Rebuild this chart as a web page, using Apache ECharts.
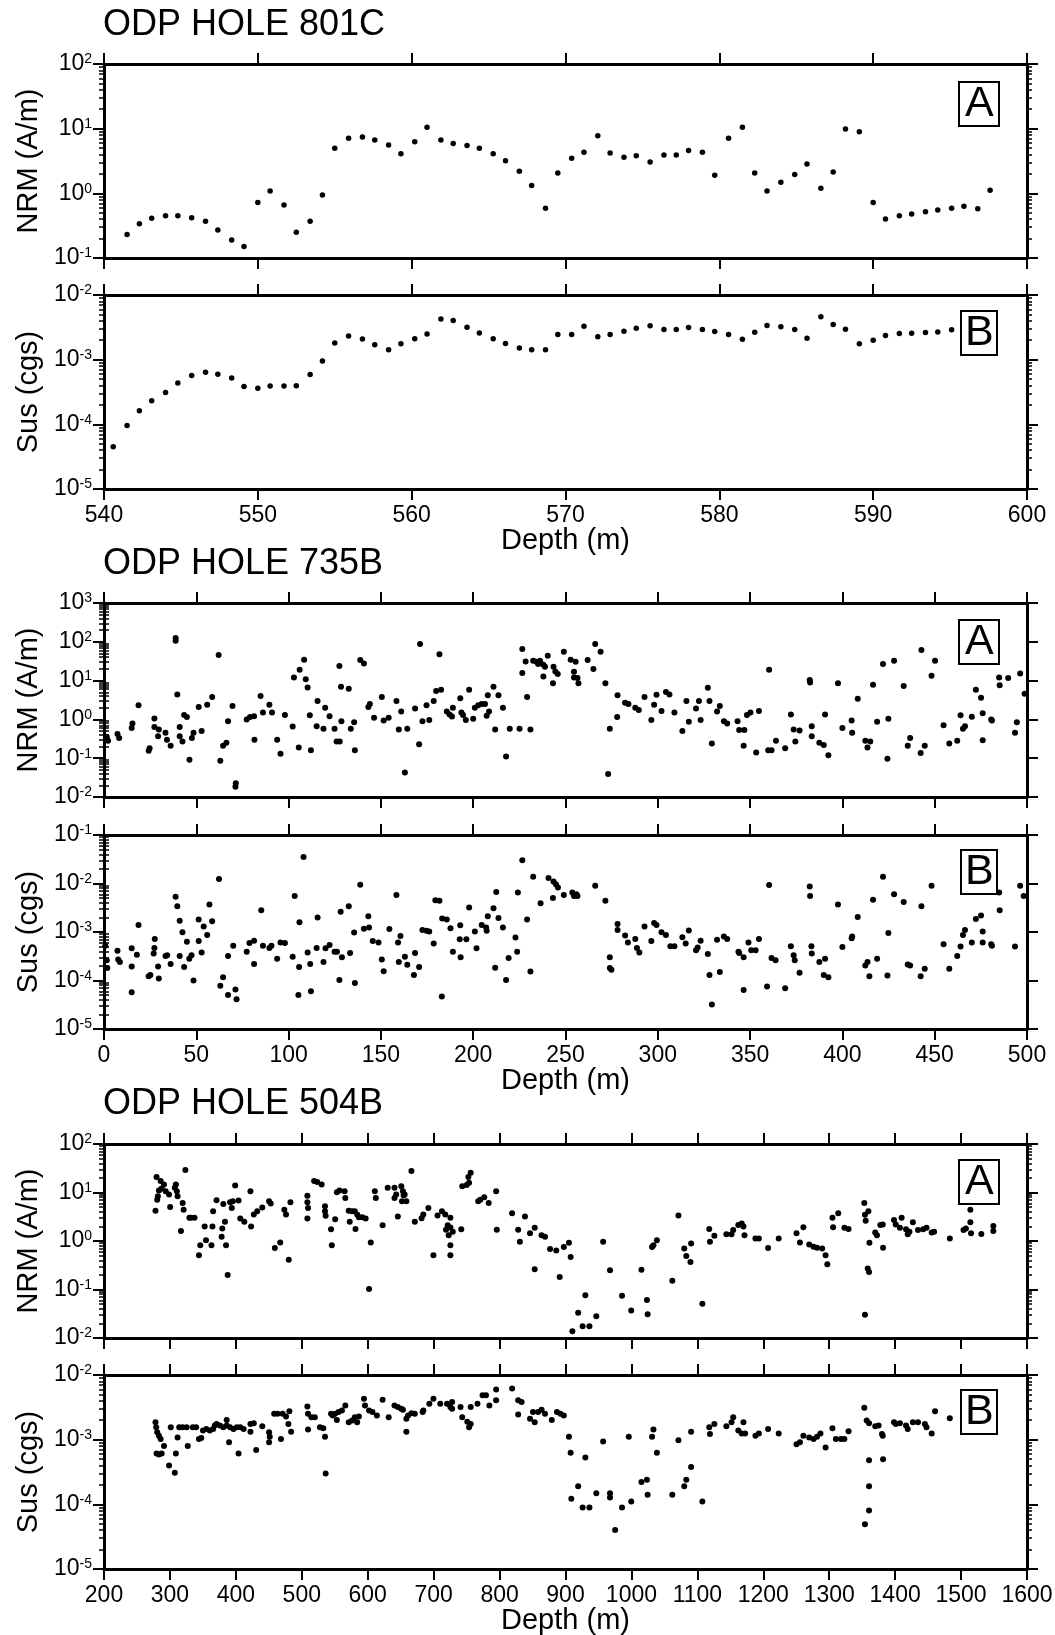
<!DOCTYPE html>
<html>
<head>
<meta charset="utf-8">
<script src="https://cdn.jsdelivr.net/npm/echarts@6/dist/echarts.min.js"></script>
<style>
html,body{margin:0;padding:0;background:#fff;}
#chart{width:1055px;height:1635px;}
</style>
</head>
<body>
<div id="chart"></div>
<script>
// ---------------- DATA (depth m, value) ----------------
const nrm801C = [[541.5,0.23],[542.3,0.34],[543.1,0.41],[544.0,0.45],[544.8,0.45],[545.7,0.42],[546.6,0.37],[547.4,0.27],[548.3,0.19],[549.1,0.15],[550.0,0.72],[550.8,1.09],[551.7,0.66],[552.5,0.25],[553.4,0.37],[554.2,0.94],[555.0,5.0],[555.9,7.1],[556.8,7.4],[557.6,6.7],[558.5,5.6],[559.3,4.1],[560.2,6.3],[561.0,10.5],[561.9,6.7],[562.7,5.9],[563.6,5.5],[564.4,5.0],[565.3,4.1],[566.1,3.2],[567.0,2.2],[567.8,1.32],[568.7,0.59],[569.5,2.06],[570.4,3.5],[571.2,4.3],[572.1,7.8],[572.9,4.2],[573.8,3.6],[574.6,3.8],[575.5,3.05],[576.4,3.9],[577.2,3.9],[578.0,4.6],[578.9,4.3],[579.7,1.91],[580.6,7.1],[581.5,10.5],[582.3,2.06],[583.1,1.09],[584.0,1.49],[584.9,1.96],[585.7,2.84],[586.6,1.2],[587.4,2.13],[588.2,9.9],[589.1,9.0],[590.0,0.72],[590.8,0.40],[591.7,0.45],[592.5,0.48],[593.4,0.52],[594.2,0.55],[595.1,0.59],[595.9,0.63],[596.8,0.58],[597.6,1.12]];

const sus801C = [[540.6,4.5e-5],[541.5,9.6e-5],[542.3,1.62e-4],[543.1,2.32e-4],[544.0,3.1e-4],[544.8,4.36e-4],[545.7,5.68e-4],[546.6,6.4e-4],[547.4,5.96e-4],[548.3,5.21e-4],[549.1,3.85e-4],[550.0,3.63e-4],[550.8,3.91e-4],[551.7,3.91e-4],[552.5,3.95e-4],[553.4,5.89e-4],[554.2,9.53e-4],[555.0,1.81e-3],[555.9,2.32e-3],[556.8,2.08e-3],[557.6,1.7e-3],[558.5,1.42e-3],[559.3,1.76e-3],[560.2,2.11e-3],[561.0,2.5e-3],[561.9,4.25e-3],[562.7,4.05e-3],[563.6,3.18e-3],[564.4,2.59e-3],[565.3,2.11e-3],[566.1,1.78e-3],[567.0,1.51e-3],[567.8,1.42e-3],[568.7,1.42e-3],[569.5,2.44e-3],[570.4,2.44e-3],[571.2,3.3e-3],[572.1,2.27e-3],[572.9,2.44e-3],[573.8,2.75e-3],[574.6,3.07e-3],[575.5,3.34e-3],[576.4,2.92e-3],[577.2,2.92e-3],[578.0,3.14e-3],[578.9,2.92e-3],[579.7,2.72e-3],[580.6,2.44e-3],[581.5,2.06e-3],[582.3,2.65e-3],[583.1,3.38e-3],[584.0,3.22e-3],[584.9,2.92e-3],[585.7,2.14e-3],[586.6,4.62e-3],[587.4,3.51e-3],[588.2,2.96e-3],[589.1,1.76e-3],[590.0,1.99e-3],[590.8,2.36e-3],[591.7,2.53e-3],[592.5,2.56e-3],[593.4,2.62e-3],[594.2,2.69e-3],[595.1,2.89e-3]];

const nrm735B = [[1.5,0.35],[2.2,0.28],[7.3,0.42],[8.2,0.33],[15.0,0.60],[15.4,0.78],[18.7,2.3],[24.2,0.156],[24.7,0.18],[27.3,1.06],[27.3,0.64],[29.3,0.37],[29.7,0.55],[33.3,0.45],[34.1,0.30],[36.1,0.21],[38.8,107],[38.8,126],[39.7,4.4],[41.0,0.64],[41.0,0.37],[42.5,0.27],[43.4,1.29],[44.9,1.15],[46.3,0.091],[47.6,0.33],[48.5,0.45],[51.3,2.1],[52.9,0.50],[55.9,2.4],[58.6,3.8],[62.1,46],[63.0,0.086],[64.5,0.21],[66.3,0.25],[67.2,0.90],[69.6,2.2],[71.2,0.0185],[71.4,0.0226],[77.3,1.0],[79.1,1.15],[81.3,1.2],[81.5,0.30],[84.8,4.0],[86.1,1.5],[89.6,2.4],[91.0,1.5],[93.8,0.30],[95.6,0.13],[98.0,1.3],[102.2,0.66],[102.9,12],[105.5,0.19],[106.0,19],[108.4,34.5],[109.3,10.9],[110.3,6.6],[111.5,1.27],[112.1,0.16],[115.7,3.0],[115.2,0.67],[118.9,0.57],[119.8,2.0],[122.2,1.2],[124.9,0.57],[126.0,0.27],[127.7,0.27],[127.5,23.7],[128.4,6.9],[128.6,0.90],[132.6,6.2],[133.7,0.57],[135.5,0.85],[135.9,0.16],[138.8,33.8],[140.8,27.7],[143.2,2.1],[144.0,2.5],[146.3,1.1],[150.5,3.8],[151.5,0.94],[154.2,1.1],[158.4,3.0],[159.7,0.55],[161.0,1.6],[163.0,0.043],[164.3,0.57],[168.5,1.9],[170.7,0.23],[171.2,88],[172.5,0.90],[174.7,2.3],[176.2,0.96],[178.6,3.0],[179.9,5.4],[181.7,48],[182.6,5.8],[185.7,1.6],[187.2,1.34],[188.5,1.19],[189.0,2.0],[193.0,3.5],[193.6,1.5],[194.5,1.3],[196.0,0.96],[197.8,5.8],[200.0,1.04],[200.9,2.0],[202.7,2.3],[204.6,2.5],[206.4,2.5],[207.3,1.24],[207.9,4.2],[208.6,1.6],[211.0,6.9],[211.9,0.55],[213.7,4.2],[216.1,2.0],[217.8,0.11],[219.8,0.57],
[226.6,65],[228.4,31],[226.6,15.6],[229.2,3.8],[225.1,0.57],[231.0,0.55],[232.5,32.5],[234.3,30.6],[236.2,32.5],[235.2,26.6],[238.0,25.6],[238.9,22.7],[238.0,12.7],[240.4,43.8],[243.5,22.7],[244.5,17.2],[245.8,14.7],[243.2,8.6],[249.1,55.7],[252.8,34.5],[255.5,30.6],[254.6,16.9],[254.6,12],[256.5,11.6],[257.0,8.6],[262.0,33.8],[265.1,19.8],[266.1,88],[269.0,55.7],[271.6,8.6],[273.1,0.039],[274.0,0.57],[278.2,4.2],[278.0,1.15],[282.3,2.7],[284.1,2.5],[287.8,2.0],[289.7,1.74],[292.8,3.8],[296.5,0.96],[298.0,2.4],[299.3,4.3],[302.0,1.64],[304.4,5.1],[306.3,4.4],[309.0,1.5],[313.3,0.50],[315.5,3.0],[316.8,0.87],[320.7,1.9],[322.3,3.0],[323.2,0.96],[327.1,6.5],[328.0,3.0],[329.3,0.24],[332.1,1.6],[333.6,2.2],[335.8,0.90],[337.6,0.78],[343.2,0.90],[344.1,0.53],[346.9,0.53],[346.5,0.21],[348.3,1.29],[350.2,1.5],[353.3,0.14],[354.8,1.64],[359.8,0.16],[361.6,0.16],[360.3,19],[364.0,0.28],[369.0,0.18],[372.1,1.34],[373.6,0.55],[376.8,0.52],[374.5,0.27],[382.3,10.3],[382.5,8.9],[383.4,0.67],[383.4,0.37],[387.5,0.25],[389.9,0.22],[390.6,1.34],[392.4,0.12],[397.6,8.6],[400.0,0.60],[405.0,0.94],[405.3,0.45],[408.3,3.4],[412.4,0.28],[413.6,0.19],[415.1,0.27],[416.6,7.8],[418.8,0.87],[422.0,26.6],[424.4,0.097],[424.9,1.04],[428.0,32.5],[433.2,7.3],[435.4,0.21],[436.7,0.33],[442.8,61.5],[442.4,0.136],[444.6,0.21],[448.3,13.3],[450.2,32.5],[454.8,0.71],[457.9,0.24],[462.2,0.28],[464.0,1.27],[465.3,0.57],[466.4,0.67],[470.1,1.17],[472.3,5.8],[475.1,3.6],[476.0,1.43],[476.0,0.29],[480.6,1.0],[481.0,0.94],[484.9,12],[485.2,7.6],[489.8,11.6],[493.5,0.45],[494.5,0.85],[496.3,15.2],[498.7,4.6]];

const sus735B = [[0.7,5.2e-4],[1.5,2.6e-4],[1.8,1.8e-4],[7.3,4.1e-4],[7.7,2.7e-4],[8.6,2.4e-4],[15.0,4.6e-4],[15.0,1.95e-4],[15.0,5.7e-5],[17.8,3.4e-4],[18.7,1.4e-3],[24.2,1.23e-4],[25.1,1.3e-4],[26.9,3.6e-4],[27.3,4.7e-4],[27.5,7.2e-4],[29.3,1.95e-4],[29.7,1.1e-4],[33.3,3.2e-4],[34.2,3.3e-4],[36.1,2.2e-4],[38.8,5.3e-3],[39.7,3.4e-3],[41.0,1.7e-3],[41.0,3.2e-4],[42.5,9.9e-4],[43.4,1.9e-4],[44.9,6.3e-4],[46.2,2.8e-4],[47.4,3.3e-4],[48.5,1.0e-4],[51.3,1.8e-3],[51.3,6.5e-4],[52.9,3.8e-4],[54.0,1.3e-3],[55.9,8.7e-4],[57.1,3.7e-3],[58.6,1.66e-3],[62.3,1.24e-2],[63.0,7.8e-5],[64.5,1.17e-4],[67.2,3.2e-4],[67.2,5.0e-5],[70.0,5.2e-4],[71.2,6.5e-5],[71.8,4.1e-5],[77.3,3.9e-4],[78.8,5.9e-4],[81.3,6.6e-4],[81.3,2.2e-4],[85.2,2.8e-3],[86.1,5.2e-4],[89.6,4.7e-4],[90.7,5.2e-4],[93.8,2.8e-4],[95.6,6.1e-4],[98.0,5.9e-4],[102.2,3.1e-4],[103.3,5.5e-3],[105.3,5.0e-5],[105.9,1.58e-3],[105.7,1.9e-4],[108.1,3.5e-2],[110.3,3.8e-4],[111.7,2.2e-4],[112.1,6.0e-5],[115.7,2.0e-3],[115.2,4.7e-4],[118.9,2.4e-4],[120.0,4.6e-4],[122.2,5.4e-4],[124.9,3.9e-4],[126.2,3.9e-4],[127.5,1.03e-4],[128.2,2.6e-3],[128.9,3.0e-4],[133.3,3.7e-4],[132.6,3.4e-3],[135.5,9.8e-4],[135.9,8.9e-5],[138.8,9.4e-3],[140.8,1.16e-3],[143.2,2.1e-3],[143.6,1.24e-3],[145.6,6.5e-4],[148.7,6.1e-4],[150.5,2.7e-4],[151.5,1.56e-4],[154.6,1.15e-3],[158.4,5.8e-3],[159.3,6.1e-4],[160.6,8.3e-4],[159.7,2.4e-4],[163.0,3.1e-4],[164.3,2.1e-4],[167.9,1.3e-4],[168.5,3.7e-4],[170.7,1.9e-4],[172.5,1.1e-3],[174.7,1.06e-3],[176.2,1.02e-3],[178.6,5.8e-4],[179.5,4.5e-3],[181.7,4.4e-3],[183.0,4.7e-5],[183.2,1.9e-3],[185.7,1.8e-3],[187.7,1.2e-3],[189.0,3.9e-4],[192.7,7.1e-4],[193.2,3.0e-4],[193.0,1.37e-3],[196.3,7.1e-4],[197.8,3.2e-3],[200.9,1.02e-3],[201.8,4.6e-4],[204.6,1.4e-3],[207.0,1.24e-3],[207.3,1.06e-3],[207.9,2.1e-3],[211.0,3.1e-3],[211.9,1.84e-4],[212.5,6.7e-3],[213.7,1.95e-3],[216.1,1.24e-3],[217.8,1.03e-4],[219.2,2.9e-4],[222.9,7.7e-4],[223.8,3.9e-4],[224.2,6.5e-3],
[226.6,3.0e-2],[232.5,1.38e-2],[229.2,1.8e-3],[231.0,1.54e-4],[236.5,3.9e-3],[240.8,1.3e-2],[243.2,5.0e-3],[243.5,1.1e-2],[244.8,9.7e-3],[245.9,8.3e-3],[249.1,5.8e-3],[253.7,6.5e-3],[254.6,5.5e-3],[255.9,6.0e-3],[256.5,5.5e-3],[266.1,9.0e-3],[271.6,4.4e-3],[274.0,3.0e-4],[274.0,1.8e-4],[274.9,1.67e-4],[278.2,1.46e-3],[278.2,1.1e-3],[282.3,8.5e-4],[283.8,6.1e-4],[287.8,7.2e-4],[288.7,4.7e-4],[290.0,3.8e-4],[292.8,1.3e-3],[296.5,6.5e-4],[298.0,1.53e-3],[299.3,1.4e-3],[302.0,9.9e-4],[304.4,8.7e-4],[306.8,5.1e-4],[309.0,5.1e-4],[313.3,7.8e-4],[315.1,5.8e-4],[316.8,1.07e-3],[320.7,4.2e-4],[321.6,4.8e-4],[323.2,6.6e-4],[327.1,3.5e-4],[328.0,1.3e-4],[329.3,3.2e-5],[332.1,6.9e-4],[333.6,1.5e-4],[335.8,8.1e-4],[337.6,7.2e-4],[343.7,3.9e-4],[344.1,3.7e-4],[346.5,3.0e-4],[346.5,6.4e-5],[349.1,6.1e-4],[350.6,4.2e-4],[353.0,4.2e-4],[354.8,7.2e-4],[359.2,7.5e-5],[360.3,9.3e-3],[361.6,2.9e-4],[363.8,2.6e-4],[369.0,6.9e-5],[372.1,5.1e-4],[373.6,3.3e-4],[374.2,2.6e-4],[376.8,1.44e-4],[382.3,8.7e-3],[382.5,5.5e-3],[383.2,5.1e-4],[383.4,3.6e-4],[387.5,2.4e-4],[389.9,1.3e-4],[390.6,2.8e-4],[392.4,1.17e-4],[397.6,3.7e-3],[400.0,4.9e-4],[405.0,7.4e-4],[405.3,8.1e-4],[408.3,2.05e-3],[412.4,2.05e-4],[413.6,2.4e-4],[414.6,1.23e-4],[416.6,4.6e-3],[418.8,2.8e-4],[422.0,1.38e-2],[424.4,1.27e-4],[424.9,9.5e-4],[428.0,6.0e-3],[433.2,4.15e-3],[435.4,2.15e-4],[436.7,2.05e-4],[442.4,1.23e-4],[442.8,3.4e-3],[444.6,1.75e-4],[448.3,9.0e-3],[454.8,5.6e-4],[457.9,1.75e-4],[462.2,3.2e-4],[464.0,5.0e-4],[465.3,8.7e-4],[466.4,1.1e-3],[470.1,6.1e-4],[472.3,1.86e-3],[475.1,2.2e-3],[476.0,1.02e-3],[476.0,6.1e-4],[480.6,5.6e-4],[481.0,5.2e-4],[484.9,6.5e-3],[485.2,2.8e-3],[493.5,5.0e-4],[496.3,9.0e-3],[498.2,5.5e-3]];

const nrm504B = [[278.1,4.2],[280.7,7.1],[279.7,20.8],[285.9,17.2],[287.4,12.1],[283.3,11.0],[291.0,14.6],[293.6,10.6],[281.7,8.4],[298.7,9.1],[300.3,5.0],[307.4,12.5],[309.0,14.6],[310.5,10.6],[311.6,8.4],[316.7,1.6],[319.3,6.1],[320.8,4.4],[323.4,29],[329.6,3.0],[332.1,3.0],[337.3,3.0],[344.0,0.51],[346.0,0.82],[352.7,2.0],[354.7,1.04],[363.0,0.82],[364.5,2.0],[365.5,4.1],[370.7,6.9],[378.4,1.22],[379.4,1.8],[383.5,2.5],[381.0,5.8],[385.1,0.82],[387.6,0.20],[391.2,6.3],[395.4,6.6],[404.1,6.8],[393.8,4.8],[399.0,13.9],[406.7,2.9],[412.8,2.5],[422.1,10.6],[423.1,2.0],[427.2,3.5],[432.4,4.1],[440.1,4.9],[450.4,6.6],[452.9,5.9],[459.1,0.72],[467.3,0.93],[473.5,4.4],[476.1,3.5],[480.2,0.41],[482.8,6.3],[508.5,8.6],[508.5,6.3],[509.5,4.8],[508.5,2.9],[518.7,17.2],[523.4,16.4],[530.1,14.6],[535.2,5.2],[535.2,4.1],[536.2,3.3],[544.4,1.74],[545.5,0.82],[550.6,2.8],[553.2,10.1],[557.3,11.0],[565.0,10.6],[566.0,7.7],[571.2,4.2],[572.7,2.5],[576.3,4.1],[580.4,4.1],[581.5,1.77],[584.0,3.5],[586.6,3.1],[591.7,3.1],[596.9,2.9],[602.0,0.102],[604.6,0.93],[612.3,7.7],[610.8,10.6],[622.6,2.1],[630.3,12.5],[640.6,7.7],[643.2,9.1],[640.6,12.5],[645.7,3.2],[650.9,13.5],[653.4,10.6],[656.0,9.1],[651.9,6.6],[658.6,6.6],[654.5,8.8],[666.3,27.7],[671.4,2.5],[681.7,2.95],[684.3,3.5],[692.0,4.8],[699.7,0.51],[705.9,3.35],[712.6,4.1],[717.7,3.5],[721.3,2.1],[718.7,1.7],[725.4,3.0],[725.4,1.9],[722.8,1.32],[725.4,0.82],[725.4,0.51],[729.0,1.55],[741.9,1.74],[743.4,13.5],[750.1,14.2],[753.7,15.8],[752.7,20.8],[756.2,25.6],[767.6,6.6],[770.7,7.1],[776.8,8.0],[783.5,6.1],[794.8,10.6],[795.8,1.7],[819.0,3.75],[828.2,1.7],[830.8,0.96],[838.5,3.2],[846.2,1.44],
[853.3,1.88],[853.3,0.26],[863.7,1.32],[868.9,1.22],[876.6,0.68],[886.0,0.64],[891.2,0.18],[897.4,0.75],[905.2,0.92],[907.8,0.47],[910.4,0.0138],[919.2,0.033],[926.0,0.0175],[936.3,0.0175],[930.1,0.076],[946.7,0.028],[957.1,0.96],[967.5,0.25],[985.7,0.074],[999.7,0.037],[1015.2,0.254],[1023.5,0.061],[1024.6,0.031],[1031.3,0.75],[1033.4,0.82],[1038.6,1.04],[1062.0,0.152],[1071.3,3.35],[1080.1,0.70],[1083.2,0.49],[1089.5,0.37],[1090.5,0.89],[1107.6,0.051],[1118.0,1.77],[1125.8,1.28],[1119.1,0.96],[1144.0,1.37],[1151.8,1.37],[1154.4,1.68],[1162.1,2.14],[1167.3,2.3],[1169.9,1.98],[1171.5,1.32],[1188.1,1.13],[1193.3,1.13],[1207.3,0.72],[1223.4,1.13],[1250.4,1.44],[1255.6,0.93],[1260.8,1.91],[1269.6,0.85],[1276.3,0.76],[1281.5,0.73],[1289.3,0.70],[1294.5,0.51],[1297.1,0.33],[1304.9,3.0],[1305.9,1.91],[1313.7,3.75],[1323.1,1.88],[1329.3,1.77],[1353.2,6.1],[1354.2,3.46],[1355.3,2.6],[1359.4,4.1],[1358.4,0.27],[1360.4,0.23],[1361.0,0.92],[1354.2,0.030],[1369.8,1.5],[1372.4,1.32],[1377.6,2.14],[1381.2,2.2],[1381.7,0.73],[1398.3,2.7],[1400.9,2.2],[1407.2,1.88],[1409.8,3.0],[1416.5,1.74],[1419.1,1.37],[1421.7,1.55],[1426.9,2.43],[1434.7,1.68],[1442.5,1.74],[1447.6,1.88],[1455.4,1.5],[1459.1,1.55],[1482.9,1.13],[1503.7,1.68],[1507.3,1.82],[1514.1,4.4],[1514.1,2.43],[1515.1,1.44],[1530.7,1.39],[1548.9,2.04],[1548.9,1.6]];

const sus504B = [[278.1,1.86e-3],[279.2,1.55e-3],[280.7,1.3e-3],[283.3,1.15e-3],[285.9,1.02e-3],[279.7,6.1e-4],[283.3,5.9e-4],[287.4,6.1e-4],[291.0,8.0e-4],[298.7,4.0e-4],[301.3,1.55e-3],[307.4,3.07e-4],[309.0,6.1e-4],[311.6,1.08e-3],[314.1,1.55e-3],[319.3,1.55e-3],[325.4,1.55e-3],[334.7,1.55e-3],[339.8,1.55e-3],[327.0,8.0e-4],[344.0,1.02e-3],[347.5,1.06e-3],[350.1,1.38e-3],[355.3,1.46e-3],[360.4,1.38e-3],[365.5,1.46e-3],[368.1,1.65e-3],[370.7,1.75e-3],[375.8,1.65e-3],[381.0,1.55e-3],[386.1,1.65e-3],[391.2,1.55e-3],[396.4,1.46e-3],[401.5,1.55e-3],[406.7,1.55e-3],[411.8,1.46e-3],[386.1,2.02e-3],[389.7,9.1e-4],[404.1,6.1e-4],[422.1,1.75e-3],[427.2,1.79e-3],[422.1,1.33e-3],[430.8,6.95e-4],[440.1,1.61e-3],[450.4,1.3e-3],[451.4,1.11e-3],[450.4,9.1e-4],[458.1,2.51e-3],[463.2,2.51e-3],[470.9,2.51e-3],[468.4,1.02e-3],[476.1,2.28e-3],[481.2,2.74e-3],[479.7,1.75e-3],[483.8,1.33e-3],[508.5,3.27e-3],[509.5,2.51e-3],[509.5,1.43e-3],[514.6,2.23e-3],[519.8,2.23e-3],[527.5,1.55e-3],[532.6,1.5e-3],[535.2,1.11e-3],[536.2,3.0e-4],[544.4,2.51e-3],[547.0,2.37e-3],[550.6,2.51e-3],[555.8,2.67e-3],[560.9,2.83e-3],[566.0,3.39e-3],[553.2,2.02e-3],[571.2,1.86e-3],[576.3,1.98e-3],[580.4,2.23e-3],[586.6,2.28e-3],[584.0,1.86e-3],[594.3,4.3e-3],[595.9,3.39e-3],[602.0,2.83e-3],[607.2,2.67e-3],[613.9,2.37e-3],[622.6,4.16e-3],[631.8,2.23e-3],[640.6,3.39e-3],[645.7,3.19e-3],[650.9,3.0e-3],[653.4,2.9e-3],[658.6,2.1e-3],[658.6,1.33e-3],[661.2,2.37e-3],[666.3,2.57e-3],[671.4,2.51e-3],[683.3,2.67e-3],[684.3,2.83e-3],[693.5,3.6e-3],[699.7,4.3e-3],[710.0,3.6e-3],[720.3,3.6e-3],[725.4,3.19e-3],[728.0,3.0e-3],[728.0,3.83e-3],[740.8,3.19e-3],[743.4,2.23e-3],[751.1,1.9e-3],[753.7,1.55e-3],[756.2,1.75e-3],[756.2,3.19e-3],[766.5,3.6e-3],[774.2,4.86e-3],[779.4,4.86e-3],[784.5,3.39e-3],[794.8,5.97e-3],[794.8,4.06e-3],[819.0,6.18e-3],[828.2,4.06e-3],[833.4,3.83e-3],[828.2,2.45e-3],[846.2,2.1e-3],
[850.7,2.67e-3],[853.3,1.86e-3],[858.5,2.67e-3],[863.7,2.9e-3],[868.9,2.51e-3],[879.2,2.02e-3],[887.0,2.67e-3],[892.2,2.51e-3],[897.4,2.37e-3],[905.2,1.11e-3],[907.8,6.3e-4],[919.2,1.9e-4],[908.8,1.22e-4],[926.0,8.9e-5],[936.3,8.9e-5],[930.1,5.3e-4],[946.7,1.49e-4],[957.1,9.4e-4],[967.5,1.49e-4],[967.5,1.28e-4],[975.3,4.0e-5],[985.7,8.9e-5],[996.0,1.11e-3],[999.7,1.11e-4],[1015.2,2.22e-4],[1023.5,2.41e-4],[1024.6,1.41e-4],[1031.3,1.11e-3],[1033.4,1.43e-3],[1038.6,6.3e-4],[1062.0,1.41e-4],[1071.3,9.8e-4],[1080.1,1.9e-4],[1083.2,2.41e-4],[1090.5,3.77e-4],[1090.5,1.33e-3],[1107.6,1.11e-4],[1118.0,1.55e-3],[1125.8,1.75e-3],[1119.1,1.22e-3],[1144.0,1.61e-3],[1151.8,1.86e-3],[1154.4,2.23e-3],[1162.1,1.38e-3],[1167.3,1.25e-3],[1169.9,1.86e-3],[1172.5,1.25e-3],[1188.1,1.15e-3],[1193.3,1.25e-3],[1207.3,1.46e-3],[1223.4,1.25e-3],[1250.4,8.5e-4],[1255.6,9.1e-4],[1260.8,1.15e-3],[1269.6,1.08e-3],[1276.3,1.02e-3],[1281.5,1.11e-3],[1286.7,1.25e-3],[1294.5,7.55e-4],[1304.9,1.5e-3],[1310.1,1.02e-3],[1317.8,1.02e-3],[1323.0,1.02e-3],[1329.3,1.35e-3],[1353.2,3.12e-3],[1356.8,1.98e-3],[1360.4,1.79e-3],[1369.8,1.61e-3],[1374.9,1.65e-3],[1380.1,1.22e-3],[1381.2,1.15e-3],[1360.4,4.8e-4],[1360.4,1.9e-4],[1360.4,8.0e-5],[1354.2,4.9e-5],[1381.7,5.0e-4],[1398.3,1.86e-3],[1400.9,1.75e-3],[1407.2,1.79e-3],[1416.5,1.65e-3],[1419.1,1.46e-3],[1426.9,1.86e-3],[1434.7,1.86e-3],[1445.1,1.75e-3],[1447.6,1.55e-3],[1455.4,1.25e-3],[1460.6,2.74e-3],[1482.9,2.15e-3]];

const holeTitles = ['ODP HOLE 801C', 'ODP HOLE 735B', 'ODP HOLE 504B'];
const panelLetters = ['A', 'B', 'A', 'B', 'A', 'B'];
const yNames = ['NRM (A/m)', 'Sus (cgs)', 'NRM (A/m)', 'Sus (cgs)', 'NRM (A/m)', 'Sus (cgs)'];
const xName = 'Depth (m)';

// ---------------- LAYOUT / STYLE ----------------
const FONT = "'Liberation Sans', Arial, Helvetica, sans-serif";
const PLOT_LEFT = 104, PLOT_W = 923, PLOT_H = 194;
const panels = [
  {top: 64,   xMin: 540, xMax: 600,  xStep: 10,  yMin: 1e-1, yMax: 1e2, data: nrm801C, xLabels: false, boxTop: 82,   dot: 5.5},
  {top: 295,  xMin: 540, xMax: 600,  xStep: 10,  yMin: 1e-5, yMax: 1e-2, data: sus801C, xLabels: true,  boxTop: 311,  dot: 5.5},
  {top: 603,  xMin: 0,   xMax: 500,  xStep: 50,  yMin: 1e-2, yMax: 1e3, data: nrm735B, xLabels: false, boxTop: 620,  dot: 6},
  {top: 835,  xMin: 0,   xMax: 500,  xStep: 50,  yMin: 1e-5, yMax: 1e-1, data: sus735B, xLabels: true,  boxTop: 850,  dot: 6},
  {top: 1144, xMin: 200, xMax: 1600, xStep: 100, yMin: 1e-2, yMax: 1e2, data: nrm504B, xLabels: false, boxTop: 1160, dot: 6},
  {top: 1375, xMin: 200, xMax: 1600, xStep: 100, yMin: 1e-5, yMax: 1e-2, data: sus504B, xLabels: true,  boxTop: 1390, dot: 6}
];
const titleTops = [7, 546, 1086];

function minorValues(min, max) {
  const out = [];
  const e0 = Math.round(Math.log10(min)), e1 = Math.round(Math.log10(max));
  for (let e = e0; e < e1; e++) for (let k = 2; k <= 9; k++) out.push(k * Math.pow(10, e));
  return out;
}

const lineStyle = {color: '#000', width: 3};
const tickStyle = {color: '#000', width: 2};

const grid = [], xAxis = [], yAxis = [], series = [], title = [];

holeTitles.forEach((t, i) => {
  title.push({
    text: t, left: PLOT_LEFT - 1, top: titleTops[i], padding: 0,
    textStyle: {fontSize: 36, fontWeight: 'normal', color: '#000', fontFamily: FONT, lineHeight: 36}
  });
});

panels.forEach((p, i) => {
  grid.push({left: PLOT_LEFT, width: PLOT_W, top: p.top, height: PLOT_H, containLabel: false, outerBoundsMode: 'none'});

  const xBase = {
    gridIndex: i, type: 'value', min: p.xMin, max: p.xMax, interval: p.xStep,
    axisLine: {show: true, onZero: false, lineStyle},
    axisTick: {show: true, length: 11, lineStyle: tickStyle},
    splitLine: {show: false}
  };
  xAxis.push(Object.assign({}, xBase, {
    position: 'bottom',
    axisLabel: {show: p.xLabels, fontSize: 23, color: '#000', fontFamily: FONT, margin: 15,
                formatter: v => String(v)},
    name: p.xLabels ? xName : '', nameLocation: 'middle', nameGap: 37, nameMoveOverlap: false,
    nameTextStyle: {fontSize: 29, color: '#000', fontFamily: FONT}
  }));
  xAxis.push(Object.assign({}, xBase, {position: 'top', axisLabel: {show: false}}));

  const minors = minorValues(p.yMin, p.yMax);
  const yBase = {gridIndex: i, type: 'log', logBase: 10, min: p.yMin, max: p.yMax, splitLine: {show: false}};
  // left major
  yAxis.push(Object.assign({}, yBase, {
    position: 'left',
    axisLine: {show: true, onZero: false, lineStyle},
    axisTick: {show: true, length: 11, lineStyle: tickStyle},
    axisLabel: {
      show: true, margin: 12,
      formatter: v => '{b|10}{s|' + Math.round(Math.log10(v)) + '}',
      rich: {
        b: {fontSize: 23, color: '#000', fontFamily: FONT},
        s: {fontSize: 14, color: '#000', fontFamily: FONT, verticalAlign: 'top'}
      }
    },
    name: yNames[i], nameLocation: 'middle', nameGap: 61, nameRotate: 90, nameMoveOverlap: false,
    nameTextStyle: {fontSize: 29, color: '#000', fontFamily: FONT}
  }));
  // left minor
  yAxis.push(Object.assign({}, yBase, {
    position: 'left', axisLine: {show: false},
    axisTick: {show: true, length: 5, customValues: minors, lineStyle: {color: '#000', width: 1.5}},
    axisLabel: {show: false}
  }));
  // right major
  yAxis.push(Object.assign({}, yBase, {
    position: 'right',
    axisLine: {show: true, onZero: false, lineStyle},
    axisTick: {show: true, length: 11, lineStyle: tickStyle},
    axisLabel: {show: false}
  }));
  // right minor
  yAxis.push(Object.assign({}, yBase, {
    position: 'right', axisLine: {show: false},
    axisTick: {show: true, length: 5, customValues: minors, lineStyle: {color: '#000', width: 1.5}},
    axisLabel: {show: false}
  }));

  series.push({
    type: 'scatter', xAxisIndex: 2 * i, yAxisIndex: 4 * i, data: p.data,
    symbol: 'circle', symbolSize: p.dot, itemStyle: {color: '#000', opacity: 1}, silent: true, z: 3
  });

  const isA = panelLetters[i] === 'A';
  title.push({
    text: panelLetters[i], left: isA ? 959 : 961, top: p.boxTop,
    padding: [1, isA ? 6 : 4], borderWidth: 2, borderColor: '#000', backgroundColor: '#fff',
    textStyle: {fontSize: 43, fontWeight: 'normal', color: '#000', fontFamily: FONT, lineHeight: 42}
  });
});

const chart = echarts.init(document.getElementById('chart'), null, {renderer: 'canvas'});
chart.setOption({
  animation: false,
  backgroundColor: '#fff',
  textStyle: {fontFamily: FONT},
  title, grid, xAxis, yAxis, series
});
</script>
</body>
</html>
